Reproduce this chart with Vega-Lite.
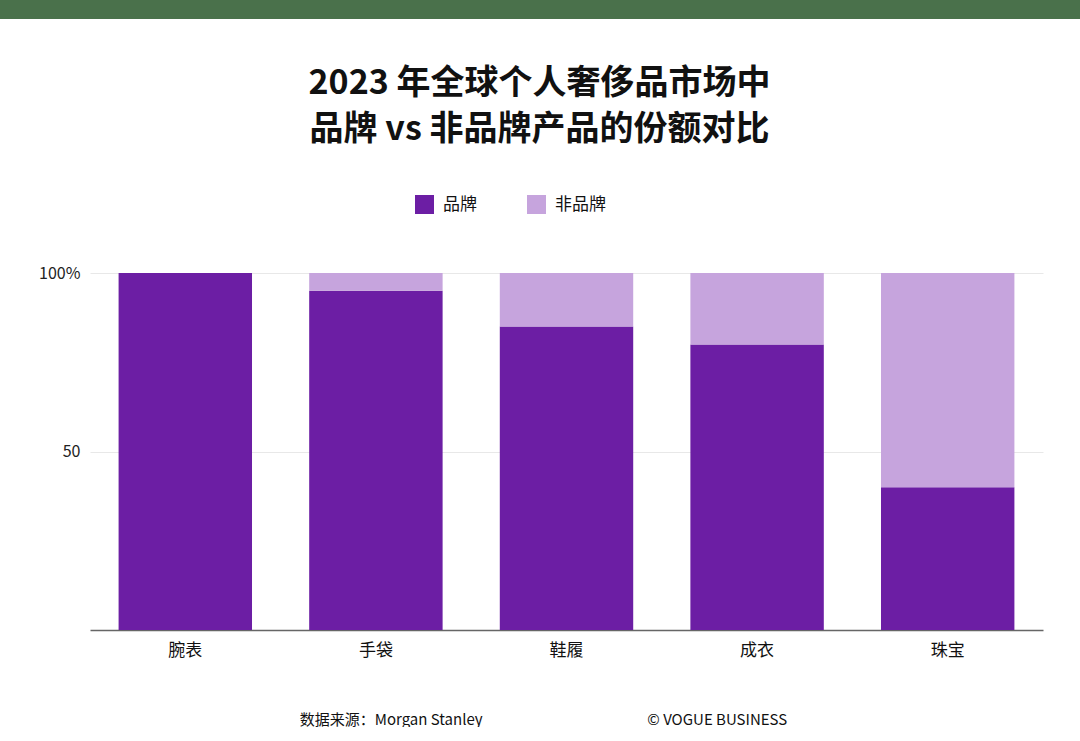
{
  "$schema": "https://vega.github.io/schema/vega-lite/v6.json",
  "padding": 0,
  "autosize": {"type": "pad"},
  "background": "white",
  "spacing": 48,
  "align": "none",
  "resolve": {"scale": {"color": "independent"}, "legend": {"color": "independent"}},
  "config": {"font": "Noto Sans CJK SC", "view": {"stroke": null}},
  "vconcat": [
    {
      "width": 1080,
      "height": 19,
      "view": {"fill": "#4a714b", "stroke": null},
      "data": {"values": [{}]},
      "mark": {"type": "text"},
      "encoding": {"text": {"value": ""}}
    },
    {
      "width": 1043,
      "height": 357,
      "title": {
        "text": ["2023 年全球个人奢侈品市场中", "品牌 vs 非品牌产品的份额对比"],
        "fontSize": 34,
        "fontWeight": "bold",
        "lineHeight": 46,
        "color": "#111111",
        "anchor": "middle",
        "dx": 18,
        "offset": 48
      },
      "data": {
        "values": [
          {"category": "腕表", "type": "品牌", "share": 100},
          {"category": "腕表", "type": "非品牌", "share": 0},
          {"category": "手袋", "type": "品牌", "share": 95},
          {"category": "手袋", "type": "非品牌", "share": 5},
          {"category": "鞋履", "type": "品牌", "share": 85},
          {"category": "鞋履", "type": "非品牌", "share": 15},
          {"category": "成衣", "type": "品牌", "share": 80},
          {"category": "成衣", "type": "非品牌", "share": 20},
          {"category": "珠宝", "type": "品牌", "share": 40},
          {"category": "珠宝", "type": "非品牌", "share": 60}
        ]
      },
      "mark": {"type": "bar"},
      "encoding": {
        "x": {
          "field": "category",
          "type": "nominal",
          "sort": ["腕表", "手袋", "鞋履", "成衣", "珠宝"],
          "scale": {"paddingInner": 0.3, "paddingOuter": 0.15, "range": [90, 1043]},
          "axis": {
            "title": "数据来源：Morgan Stanley\u00a0\u00a0\u00a0\u00a0\u00a0\u00a0\u00a0\u00a0\u00a0\u00a0\u00a0\u00a0\u00a0\u00a0\u00a0\u00a0\u00a0\u00a0\u00a0\u00a0\u00a0\u00a0\u00a0\u00a0\u00a0\u00a0\u00a0\u00a0\u00a0\u00a0\u00a0\u00a0\u00a0\u00a0\u00a0\u00a0\u00a0\u00a0\u00a0\u00a0\u00a0\u00a0\u00a0\u00a0\u00a0\u00a0\u00a0\u00a0\u00a0© VOGUE BUSINESS",
            "labelAngle": 0,
            "ticks": false,
            "domainColor": "#666666",
            "domainWidth": 1.5,
            "labelFontSize": 17,
            "labelPadding": 12,
            "labelColor": "#111111",
            "titleFontSize": 15,
            "titleFontWeight": "normal",
            "titleColor": "#111111",
            "titlePadding": 54,
            "titleX": 543,
            "titleAlign": "center"
          }
        },
        "y": {
          "field": "share",
          "type": "quantitative",
          "stack": "zero",
          "scale": {"domain": [0, 100]},
          "axis": {
            "title": null,
            "values": [50, 100],
            "labelExpr": "datum.value == 100 ? '100%' : datum.label",
            "domain": false,
            "ticks": false,
            "offset": -90,
            "labelPadding": 10,
            "labelFontSize": 16,
            "labelColor": "#222222",
            "gridColor": "#e8e8e8"
          }
        },
        "order": {"field": "type", "sort": "ascending"},
        "color": {
          "field": "type",
          "type": "nominal",
          "scale": {"domain": ["品牌", "非品牌"], "range": ["#6c1ea4", "#c6a4dd"]},
          "legend": {
            "title": null,
            "orient": "none",
            "direction": "horizontal",
            "legendX": 415,
            "legendY": -78,
            "symbolType": "square",
            "symbolSize": 361,
            "symbolStrokeWidth": 0,
            "symbolOpacity": 1,
            "labelFontSize": 17,
            "labelOffset": 9,
            "labelColor": "#111111",
            "columnPadding": 50,
            "padding": 0
          }
        }
      }
    }
  ]
}
